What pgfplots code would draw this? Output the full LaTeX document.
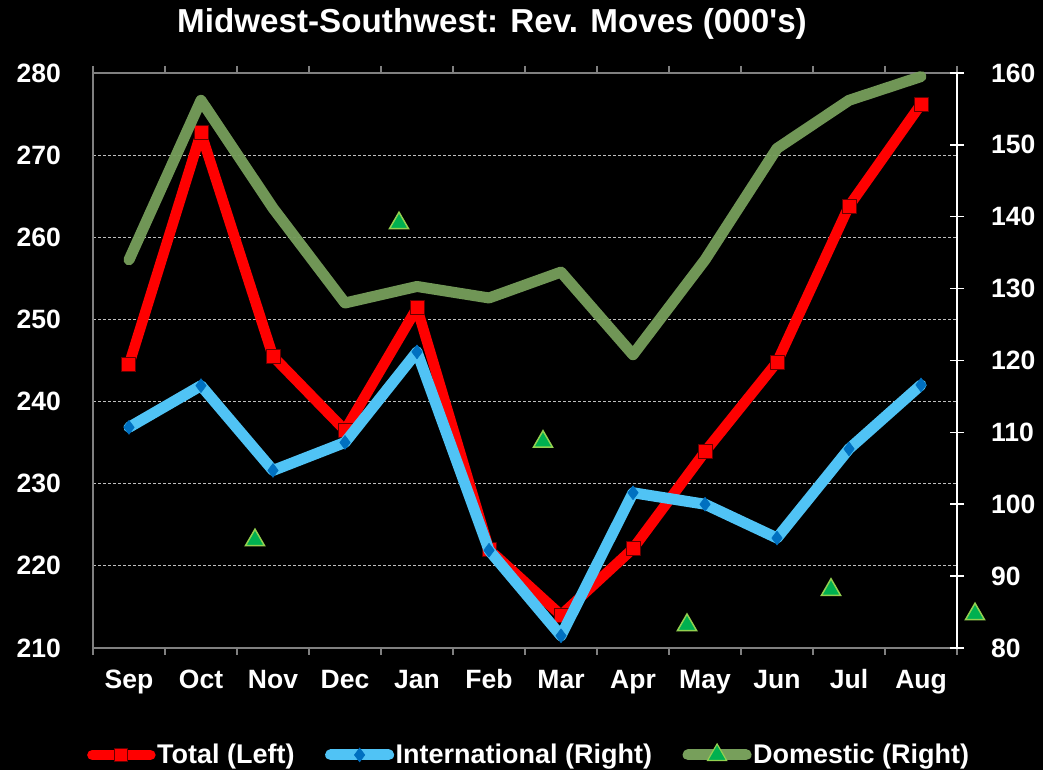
\documentclass[border=0pt]{standalone}
\usepackage{fontspec}
\setmainfont{Liberation Sans}
\usepackage{pgfplots}
\pgfplotsset{compat=1.18}
\definecolor{tred}{RGB}{255,0,0}
\definecolor{intl}{RGB}{80,195,245}
\definecolor{intlmark}{RGB}{0,112,192}
\definecolor{dom}{RGB}{119,159,91}
\definecolor{tri}{RGB}{0,176,80}
\definecolor{triedge}{RGB}{146,208,80}
\definecolor{axgray}{RGB}{128,128,128}
\begin{document}
\begin{tikzpicture}[x=1pt,y=1pt]
\fill[black] (-93,-122) rectangle (950,648);
\node[text=white, font=\fontsize{33.2}{36}\selectfont\bfseries, anchor=base west, inner sep=0pt] at (84,615) {Midwest-Southwest: Rev. Moves (000\textquotesingle s)};
\begin{axis}[
  at={(0,0)}, anchor=south west, scale only axis,
  width=864pt, height=575pt,
  xmin=-0.5, xmax=11.5, ymin=210, ymax=280,
  xtick={0,...,11},
  xticklabels={Sep,Oct,Nov,Dec,Jan,Feb,Mar,Apr,May,Jun,Jul,Aug},
  minor xtick={-0.5,0.5,...,11.5},
  ytick={210,220,...,280},
  major tick length=0pt, minor tick length=7pt,
  tick align=outside,
  minor tick style={axgray, line width=1.2pt},
  axis line style={axgray, line width=1.5pt},
  ymajorgrids, grid style={white!75!black, line width=0.8pt, dash pattern=on 3pt off 2pt},
  /pgf/number format/assume math mode=true,
  ticklabel style={text=white, font=\fontsize{26.5}{30}\selectfont\bfseries, inner sep=0pt},
  yticklabel style={anchor=east, xshift=-32pt},
  xticklabel style={anchor=base, yshift=-40pt},
  clip=false,
]
\addplot[tred, line width=10.5pt, line join=round, line cap=round,
  mark=square*, mark size=7pt, mark options={fill=tred, draw=black!60!red, line width=1pt}]
  coordinates {(0,244.5) (1,272.7) (2,245.5) (3,236.5) (4,251.4) (5,222.0) (6,214.0) (7,222.1) (8,233.9) (9,244.8) (10,263.8) (11,276.2)};
\end{axis}
\begin{axis}[
  at={(0,0)}, anchor=south west, scale only axis,
  width=864pt, height=575pt,
  xmin=-0.5, xmax=11.5, ymin=80, ymax=160,
  axis x line=none, axis y line*=right,
  ytick={80,90,...,160},
  major tick length=14pt, tick align=center,
  y axis line style={white, line width=1.5pt},
  ytick style={white, line width=1.5pt},
  /pgf/number format/assume math mode=true,
  ticklabel style={text=white, font=\fontsize{26.5}{30}\selectfont\bfseries, inner sep=0pt},
  yticklabel style={anchor=west, xshift=27pt},
  clip=false,
  legend columns=3,
  legend style={at={(rel axis cs:-0.007,-0.186)}, anchor=west, draw=none, fill=black, text=white,
    font=\fontsize{27}{30}\selectfont\bfseries, inner sep=0pt,
    nodes={inner sep=1.5pt},
    /tikz/every even column/.append style={column sep=29pt}},
  legend image code/.code={\draw[mark repeat=2, mark phase=2, line cap=round, #1] plot coordinates {(0pt,0pt) (29pt,0pt) (58pt,0pt)};},
]
\addlegendimage{tred, line width=10.5pt, mark=square*, mark size=6.5pt, mark options={fill=tred, draw=black!60!red, line width=1pt}}
\addlegendentry{Total (Left)}
\addlegendimage{intl, line width=11pt, mark=diamond*, mark size=7pt, mark options={fill=intlmark, draw=intlmark, line width=0.5pt}}
\addlegendentry{International (Right)}
\addlegendimage{dom, line width=11pt, mark=triangle*, mark size=11pt, mark options={fill=tri, draw=triedge, line width=1.2pt}}
\addlegendentry{Domestic (Right)}
\addplot[intl, line width=11pt, line join=round, line cap=round,
  mark=diamond*, mark size=7pt, mark options={fill=intlmark, draw=intlmark, line width=0.5pt}, forget plot]
  coordinates {(0,110.7) (1,116.5) (2,104.7) (3,108.6) (4,121.2) (5,93.6) (6,81.7) (7,101.6) (8,100.0) (9,95.3) (10,107.7) (11,116.6)};
\addplot[dom, line width=11pt, line join=round, line cap=round, opacity=0.95, forget plot]
  coordinates {(0,134.0) (1,156.2) (2,141.2) (3,128.0) (4,130.3) (5,128.7) (6,132.3) (7,120.8) (8,134.0) (9,149.5) (10,156.2) (11,159.5)};
\addplot[only marks, mark=triangle*, mark size=11pt, mark options={fill=tri, draw=triedge, line width=1.5pt}, forget plot]
  coordinates {(1.75,95.0) (3.75,139.1) (5.75,108.7) (7.75,83.2) (9.75,88.1) (11.75,84.7)};
\end{axis}
\end{tikzpicture}
\end{document}
